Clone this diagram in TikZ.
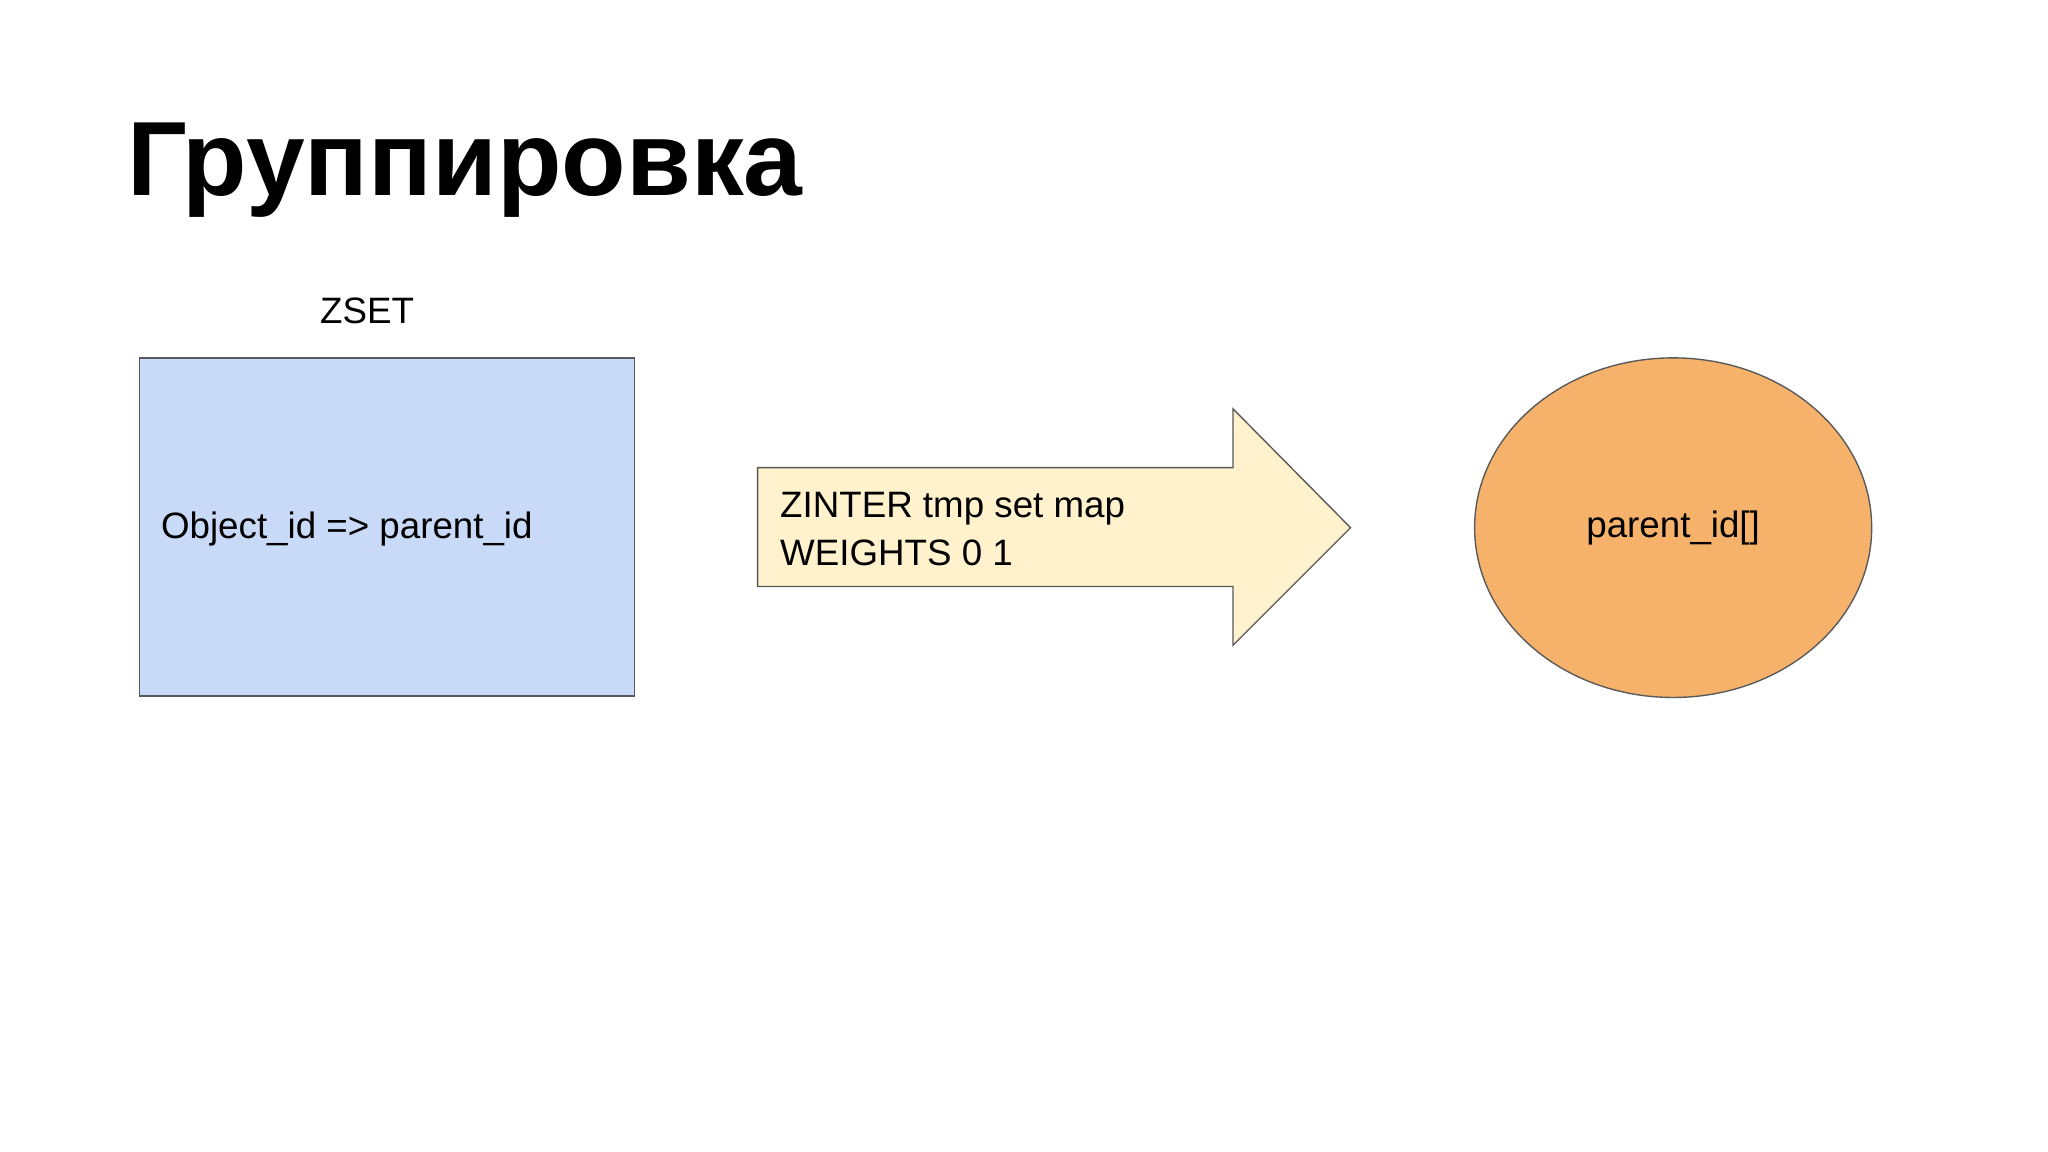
\documentclass[tikz,border=0pt]{standalone}
\usepackage{fontspec}
\setmainfont{Liberation Sans}
\usetikzlibrary{shapes.geometric}
\definecolor{boxblue}{HTML}{C9DAF8}
\definecolor{arrowyellow}{HTML}{FFF2CC}
\definecolor{ellorange}{HTML}{F6B26B}
\definecolor{edge}{HTML}{595959}
\begin{document}
\begin{tikzpicture}[x=0.02cm,y=-0.02cm,
  lbl/.style={font=\fontsize{16}{19}\selectfont, inner sep=0pt},
  shp/.style={draw=edge, line width=0.6pt}]
\useasboundingbox (0,0) rectangle (1568,882);
\fill[white] (0,0) rectangle (1568,882);
\node[anchor=base west, inner sep=0pt, font=\fontsize{46}{50}\bfseries] (title) at (97,150) {Группировка};
\node[lbl, anchor=base] (zset) at (281,248) {ZSET};
\node[shp, fill=boxblue, minimum width=379*0.02cm, minimum height=259*0.02cm, inner sep=0pt] (box) at (296.5,403.5) {};
\node[lbl, anchor=west] (obj) at (123,405) {Object\_id => parent\_id};
\path[shp, fill=arrowyellow] (580,358) -- (944,358) -- (944,313) -- (1034,404) -- (944,494) -- (944,449) -- (580,449) -- cycle;
\node[lbl, anchor=west, align=left, font=\fontsize{16}{21}\selectfont] (cmd) at (597,405) {ZINTER tmp set map\\WEIGHTS 0 1};
\node[shp, fill=ellorange, ellipse, minimum width=304*0.02cm, minimum height=260*0.02cm, inner sep=0pt] (res) at (1281,404) {};
\node[lbl] (restext) at (res.center) {parent\_id[]};
\end{tikzpicture}
\end{document}
